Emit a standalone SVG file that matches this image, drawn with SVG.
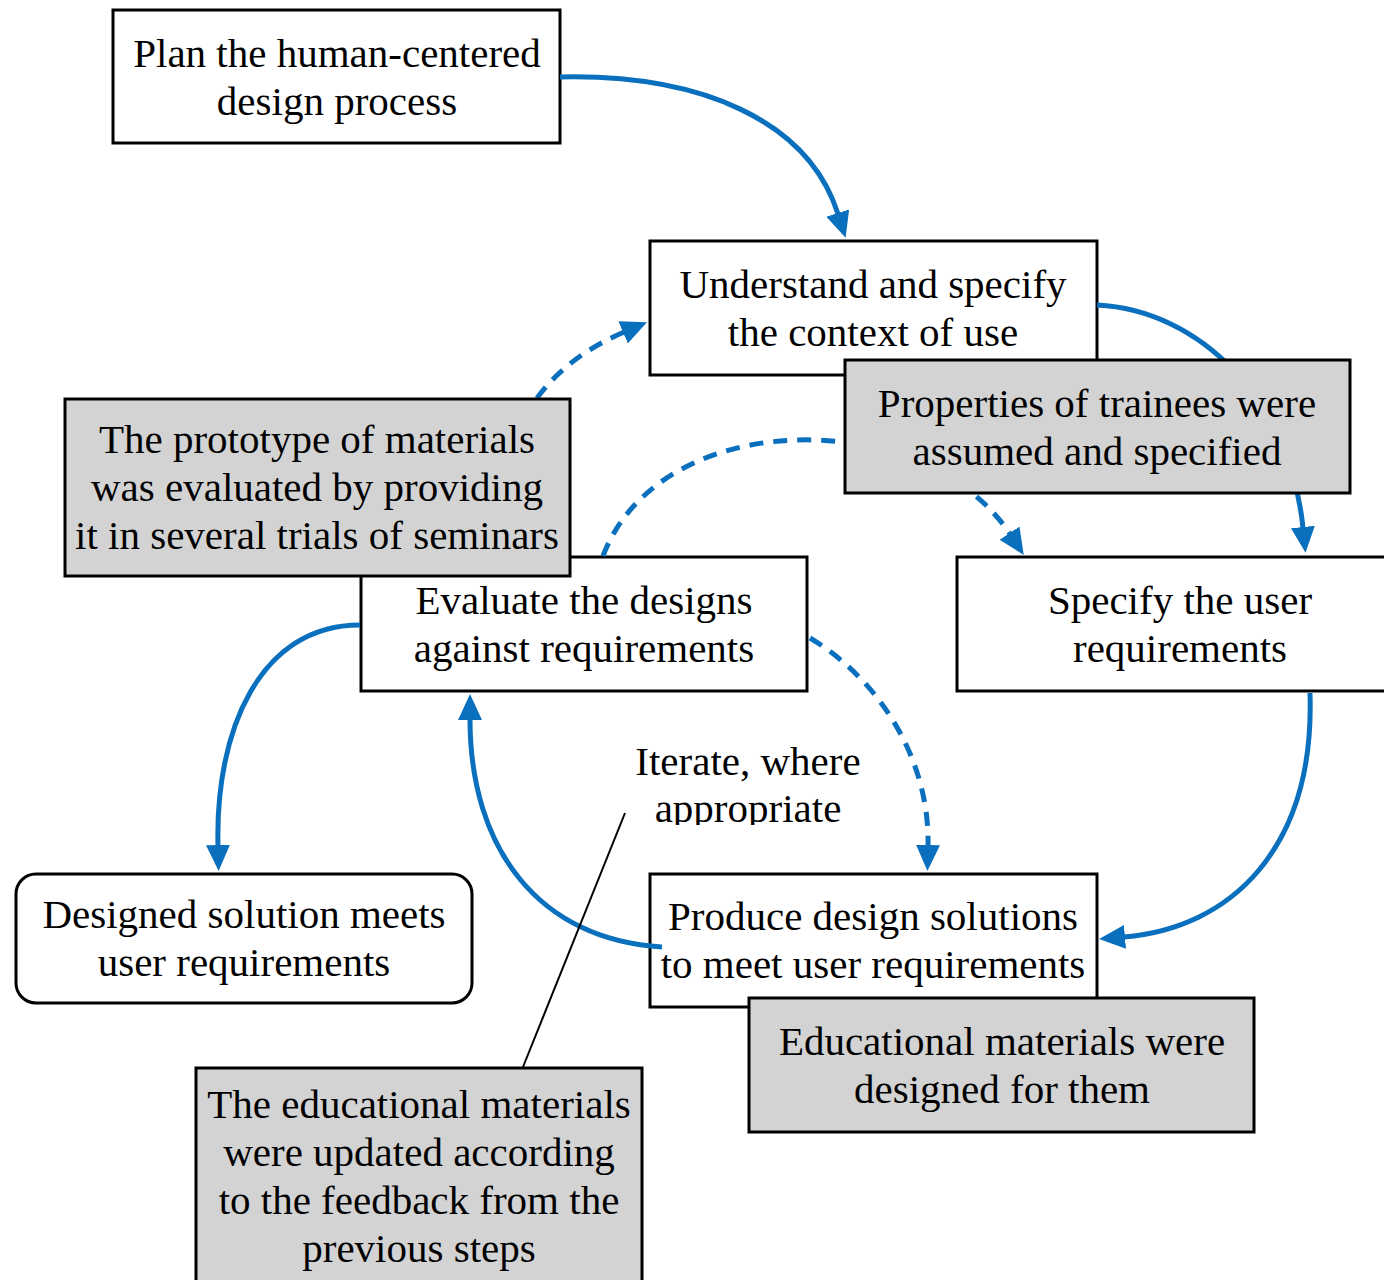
<svg xmlns="http://www.w3.org/2000/svg" width="1384" height="1280" viewBox="0 0 1384 1280">
<style>
.box{fill:#ffffff;stroke:#000;stroke-width:3}
.note{fill:#d3d3d3;stroke:#000;stroke-width:3}
.t{font-family:"Liberation Serif","Times New Roman",serif;font-size:41px;fill:#000;text-anchor:middle}
.arr{fill:none;stroke:#0a70bd;stroke-width:5}
.dash{fill:none;stroke:#0a70bd;stroke-width:5;stroke-dasharray:14 10}
</style>
<defs>
<marker id="ah" viewBox="0 0 26 24" refX="1" refY="12" markerWidth="26" markerHeight="24" markerUnits="userSpaceOnUse" orient="auto">
<path d="M0,0 L26,12 L0,24 z" fill="#0a70bd"/>
</marker>
<clipPath id="clipIter"><rect x="600" y="730" width="300" height="95"/></clipPath>
</defs>
<rect width="1384" height="1280" fill="#ffffff"/>

<g id="plan">
<rect class="box" x="113" y="10" width="447" height="133"/>
<text class="t" x="337" y="67">Plan the human-centered</text>
<text class="t" x="337" y="115">design process</text>
</g>
<g id="understand">
<rect class="box" x="650" y="241" width="447" height="134"/>
<text class="t" x="873" y="298">Understand and specify</text>
<text class="t" x="873" y="346">the context of use</text>
</g>
<g id="evaluate">
<rect class="box" x="361" y="557" width="446" height="134"/>
<text class="t" x="584" y="614">Evaluate the designs</text>
<text class="t" x="584" y="662">against requirements</text>
</g>
<g id="specify">
<rect class="box" x="957" y="557" width="440" height="134"/>
<text class="t" x="1180" y="614">Specify the user</text>
<text class="t" x="1180" y="662">requirements</text>
</g>
<g id="designed">
<rect class="box" x="16" y="874" width="456" height="129" rx="20" ry="20"/>
<text class="t" x="244" y="928">Designed solution meets</text>
<text class="t" x="244" y="976">user requirements</text>
</g>
<g id="produce">
<rect class="box" x="650" y="874" width="447" height="133"/>
<text class="t" x="873" y="930">Produce design solutions</text>
<text class="t" x="873" y="978">to meet user requirements</text>
</g>
<g id="iterate">
<text class="t" x="748" y="775">Iterate, where</text>
<text class="t" x="748" y="822" clip-path="url(#clipIter)">appropriate</text>
</g>

<g id="connectors">
<path class="arr" d="M560,77 C700,74 808,120 838,214" marker-end="url(#ah)"/>
<path class="arr" d="M1097,305 C1200,310 1290,400 1303,528" marker-end="url(#ah)"/>
<path class="arr" d="M1310,693 C1315,850 1230,928 1124,937" marker-end="url(#ah)"/>
<path class="arr" d="M662,947 C540,940 470,850 470,719" marker-end="url(#ah)"/>
<path class="arr" d="M360,625 C260,625 215,730 218,846" marker-end="url(#ah)"/>
<path class="dash" d="M537,398 Q568,356 624,332" marker-end="url(#ah)"/>
<path class="dash" d="M603,556 C660,405 925,405 1010,534" marker-end="url(#ah)"/>
<path class="dash" d="M810,638 C880,680 930,760 928,846" marker-end="url(#ah)"/>
<line x1="625" y1="813" x2="523" y2="1067" stroke="#000" stroke-width="2"/>
</g>

<g id="properties">
<rect class="note" x="845" y="360" width="505" height="133"/>
<text class="t" x="1097" y="417">Properties of trainees were</text>
<text class="t" x="1097" y="465">assumed and specified</text>
</g>
<g id="prototype">
<rect class="note" x="65" y="399" width="505" height="177"/>
<text class="t" x="317" y="453">The prototype of materials</text>
<text class="t" x="317" y="501">was evaluated by providing</text>
<text class="t" x="317" y="549">it in several trials of seminars</text>
</g>
<g id="educational">
<rect class="note" x="749" y="998" width="505" height="134"/>
<text class="t" x="1002" y="1055">Educational materials were</text>
<text class="t" x="1002" y="1103">designed for them</text>
</g>
<g id="updated">
<rect class="note" x="196" y="1068" width="446" height="230"/>
<text class="t" x="419" y="1118">The educational materials</text>
<text class="t" x="419" y="1166">were updated according</text>
<text class="t" x="419" y="1214">to the feedback from the</text>
<text class="t" x="419" y="1262">previous steps</text>
</g>
</svg>
